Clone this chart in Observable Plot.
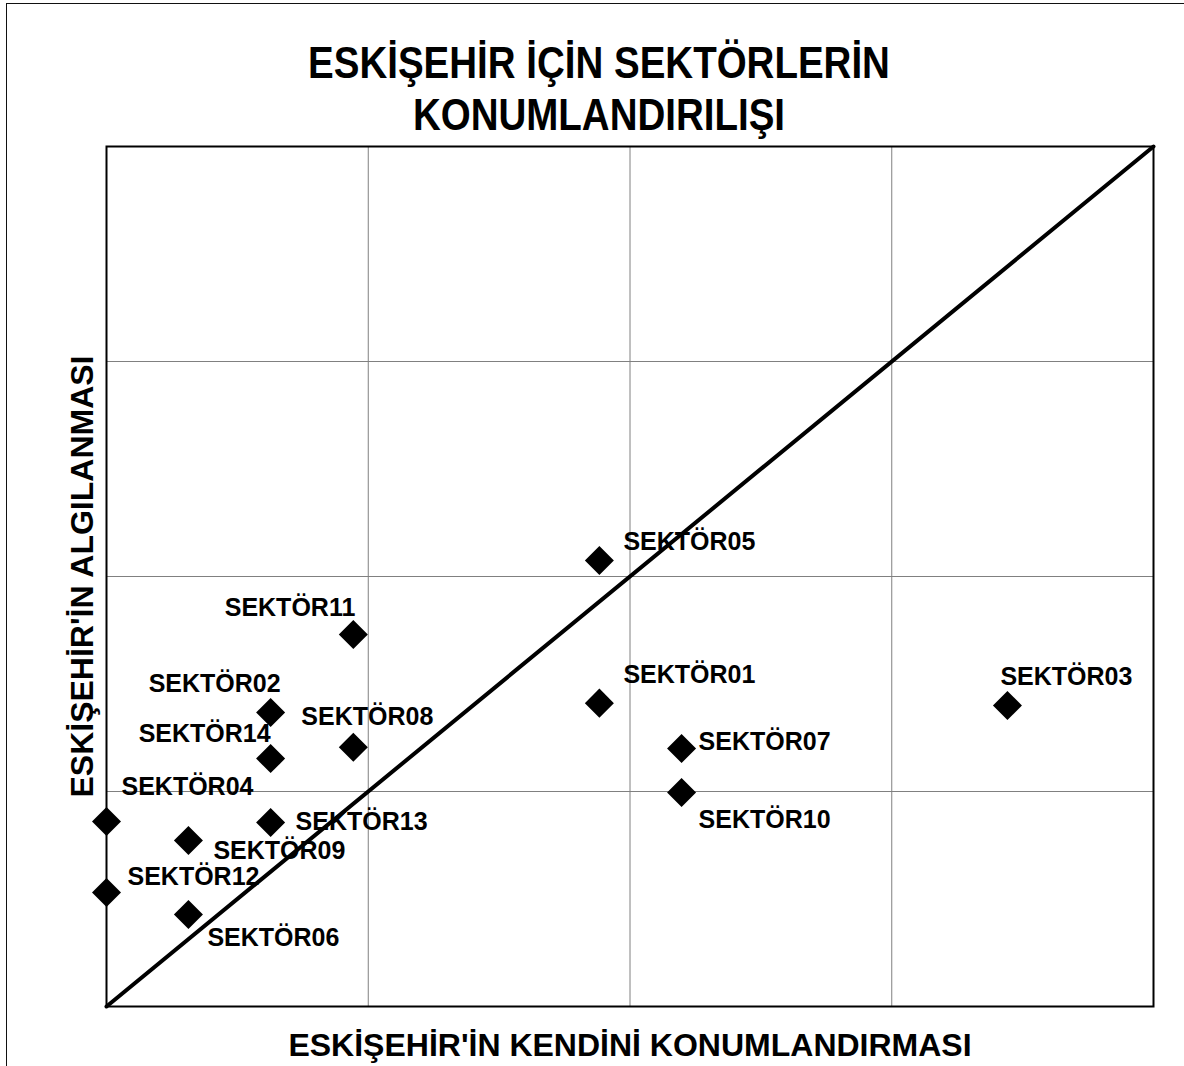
<!DOCTYPE html>
<html>
<head>
<meta charset="utf-8">
<script src="https://cdn.jsdelivr.net/npm/d3@7"></script>
<script src="https://cdn.jsdelivr.net/npm/@observablehq/plot@0.6"></script>
<style>
  html, body { margin: 0; padding: 0; background: #fff; }
  #page { position: relative; width: 1184px; height: 1066px; overflow: hidden; background: #fff;
          font-family: "Liberation Sans", Arial, sans-serif; }
  #border { position: absolute; left: 6px; top: 3px; width: 1186px; height: 1100px;
            border: 1px solid #111; box-sizing: border-box; pointer-events: none; }
  #title { position: absolute; left: 0; top: 43px; width: 1198px; text-align: center;
           font-weight: bold; font-size: 38.5px; line-height: 46px; color: #000;
           transform: scaleY(1.15); transform-origin: 50% 50%; }
  #chart { position: absolute; left: 0; top: 0; }
</style>
</head>
<body>
<div id="page">
  <div id="chart"></div>
  <div id="border"></div>
  <div id="title">ESKİŞEHİR İÇİN SEKTÖRLERİN<br>KONUMLANDIRILIŞI</div>
</div>
<script>
// ---- data ----
const sectors = ["SEKTÖR01","SEKTÖR02","SEKTÖR03","SEKTÖR04","SEKTÖR05","SEKTÖR06","SEKTÖR07",
                 "SEKTÖR08","SEKTÖR09","SEKTÖR10","SEKTÖR11","SEKTÖR12","SEKTÖR13","SEKTÖR14"];
const selfPositioning = [1.883, 0.627, 3.442, 0.000, 1.883, 0.313, 2.197,
                         0.943, 0.313, 2.197, 0.943, 0.000, 0.627, 0.627];
const perception      = [1.411, 1.367, 1.400, 0.860, 2.074, 0.428, 1.200,
                         1.206, 0.772, 0.995, 1.730, 0.530, 0.856, 1.153];
const axisDomain = [0, 4];
const gridValues = [1, 2, 3];
const titleText = "ESKİŞEHİR İÇİN SEKTÖRLERİN KONUMLANDIRILIŞI";
const xLabel = "ESKİŞEHİR'İN KENDİNİ KONUMLANDIRMASI";
const yLabel = "ESKİŞEHİR'İN ALGILANMASI";

// ---- label placement (layout only) ----
const labelPlacement = {
  "SEKTÖR01": {anchor: "start", dx: 24, dy: -28},
  "SEKTÖR02": {anchor: "end",   dx: 10, dy: -29},
  "SEKTÖR03": {anchor: "start", dx: -7, dy: -29},
  "SEKTÖR04": {anchor: "start", dx: 15, dy: -35},
  "SEKTÖR05": {anchor: "start", dx: 24, dy: -19},
  "SEKTÖR06": {anchor: "start", dx: 19, dy: 24},
  "SEKTÖR07": {anchor: "start", dx: 17, dy: -7},
  "SEKTÖR08": {anchor: "start", dx: -52, dy: -30},
  "SEKTÖR09": {anchor: "start", dx: 25, dy: 10},
  "SEKTÖR10": {anchor: "start", dx: 17, dy: 27},
  "SEKTÖR11": {anchor: "end",   dx: 2,  dy: -27},
  "SEKTÖR12": {anchor: "start", dx: 21, dy: -16},
  "SEKTÖR13": {anchor: "start", dx: 25, dy: 0},
  "SEKTÖR14": {anchor: "end",   dx: 0,  dy: -25}
};

const rows = sectors.map((name, i) => ({name, x: selfPositioning[i], y: perception[i]}));
const refLine = axisDomain.map(v => ({x: v, y: v}));

const diamond = {
  draw(context, size) {
    const h = Math.sqrt(size / Math.PI) * 1.1;
    context.moveTo(0, -h);
    context.lineTo(h, 0);
    context.lineTo(0, h);
    context.lineTo(-h, 0);
    context.closePath();
  }
};

const labelFont = {fontFamily: "Liberation Sans, Arial, sans-serif", fontWeight: "bold", fill: "black"};

const labelMarks = rows.map(d => Plot.text([d], {
  x: "x", y: "y", text: "name",
  textAnchor: labelPlacement[d.name].anchor, lineAnchor: "middle",
  dx: labelPlacement[d.name].dx, dy: labelPlacement[d.name].dy,
  fontSize: 25, ...labelFont
}));

const chart = Plot.plot({
  width: 1184,
  height: 1066,
  marginLeft: 106,
  marginRight: 31,
  marginTop: 146,
  marginBottom: 60,
  style: {background: "transparent", overflow: "visible"},
  x: {domain: axisDomain, axis: null},
  y: {domain: axisDomain, axis: null},
  marks: [
    Plot.gridX(gridValues, {stroke: "#808080", strokeOpacity: 1, strokeWidth: 1}),
    Plot.gridY(gridValues, {stroke: "#808080", strokeOpacity: 1, strokeWidth: 1}),
    Plot.frame({stroke: "#000", strokeWidth: 2}),
    Plot.line(refLine, {x: "x", y: "y", stroke: "#000", strokeWidth: 4, strokeLinecap: "round"}),
    Plot.dot(rows, {x: "x", y: "y", symbol: diamond, r: 13.2, fill: "#000", stroke: "none"}),
    ...labelMarks,
    Plot.text([xLabel], {frameAnchor: "bottom", dy: 39, lineAnchor: "middle", textAnchor: "middle",
                         fontSize: 32, ...labelFont}),
    Plot.text([yLabel], {frameAnchor: "left", dx: -24, rotate: -90, lineAnchor: "middle", textAnchor: "middle",
                         fontSize: 32, ...labelFont})
  ]
});
document.getElementById("chart").appendChild(chart);
</script>
</body>
</html>
